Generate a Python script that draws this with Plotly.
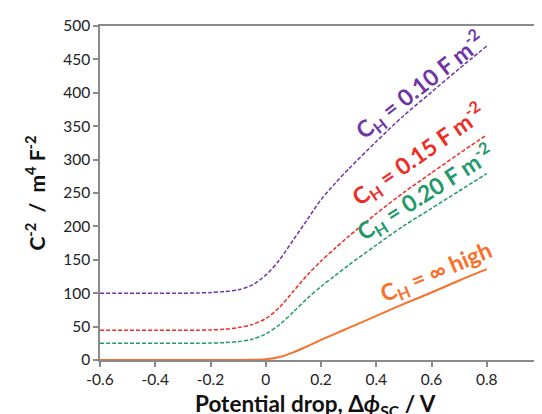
import plotly.graph_objects as go

# Potential drop (V)
potential = [-0.6, -0.5, -0.4, -0.3, -0.25, -0.2, -0.15, -0.1, -0.05, 0.0, 0.05,
             0.1, 0.15, 0.2, 0.25, 0.3, 0.4, 0.5, 0.6, 0.7, 0.8]

# C^-2 values (m^4 F^-2)
ch_inf = [0, 0, 0, 0, 0, 0, 0, 0.05, 0.3, 1.2, 4.5, 11.5, 20.5, 30, 39, 48, 66, 84, 101, 119, 136]
ch_020 = [25, 25, 25, 25, 25.1, 25.3, 26, 27.5, 31, 39, 53, 72, 92, 110, 126, 142, 172, 201, 227, 253, 279]
ch_015 = [44.5, 44.5, 44.5, 44.5, 44.6, 45, 46, 48.5, 53, 62, 79, 103, 127, 148, 167, 185, 219, 251, 280, 309, 337]
ch_010 = [100, 100, 100, 100, 100.3, 101, 102.5, 105, 112, 127, 150, 180, 210, 240, 264, 286, 327, 366, 401, 436, 470]

x_tickvals = [-0.6, -0.4, -0.2, 0, 0.2, 0.4, 0.6, 0.8, 1.0]
x_ticktext = ["-0.6", "-0.4", "-0.2", "0", "0.2", "0.4", "0.6", "0.8", "1"]
y_tickvals = [0, 50, 100, 150, 200, 250, 300, 350, 400, 450, 500]

PURPLE = "#6F35A5"
RED = "#EE2B25"
GREEN = "#22996A"
ORANGE = "#FA7028"
FONT = "Lato"

fig = go.Figure()
for ys, col, dash, w in [
    (ch_010, PURPLE, "4px,2px", 1.5),
    (ch_015, RED, "4px,2px", 1.5),
    (ch_020, GREEN, "4px,2px", 1.5),
    (ch_inf, ORANGE, "solid", 2),
]:
    fig.add_trace(go.Scatter(
        x=potential, y=ys, mode="lines",
        line=dict(color=col, width=w, dash=dash, shape="spline", smoothing=0.8),
        showlegend=False, hoverinfo="skip"))

labels = [
    ("C<sub>H</sub> = 0.10 F m<sup>-2</sup>", PURPLE, 0.56, 412, -38),
    ("C<sub>H</sub> = 0.15 F m<sup>-2</sup>", RED, 0.55, 308, -35),
    ("C<sub>H</sub> = 0.20 F m<sup>-2</sup>", GREEN, 0.575, 251, -32),
    ("C<sub>H</sub> = ∞ high", ORANGE, 0.617, 131, -23),
]
for text, col, x, y, ang in labels:
    fig.add_annotation(x=x, y=y, xref="x", yref="y", text="<b>" + text + "</b>",
                       showarrow=False, textangle=ang,
                       font=dict(family=FONT, size=23, color=col))

# x-axis title as a paper annotation (positioned like the reference)
fig.add_annotation(x=0.488, y=-0.083, xref="paper", yref="paper", xanchor="center",
                   yanchor="top", showarrow=False,
                   text="<b>Potential drop, Δ<i>ϕ</i><sub>SC</sub> / V</b>",
                   font=dict(family=FONT, size=22.5, color="#111"))

axis_common = dict(showgrid=False, zeroline=False, showline=True, linecolor="#8a8a8a",
                   linewidth=1.5, mirror=True, ticks="outside", ticklen=5,
                   tickcolor="#8a8a8a", tickwidth=1.5,
                   tickfont=dict(family=FONT, size=15.5, color="#222"))

fig.update_xaxes(range=[-0.6, 1.0], tickvals=x_tickvals, ticktext=x_ticktext,
                 **axis_common)
fig.update_yaxes(range=[0, 500], tickvals=y_tickvals,
                 title=dict(text="<b>C<sup>-2</sup>  /  m<sup>4</sup> F<sup>-2</sup></b>",
                            font=dict(family=FONT, size=21, color="#111"), standoff=12),
                 **axis_common)

fig.update_layout(width=542, height=414, margin=dict(l=92, r=3, t=18, b=62),
                  plot_bgcolor="white", paper_bgcolor="white")

fig.write_html("out.html")
